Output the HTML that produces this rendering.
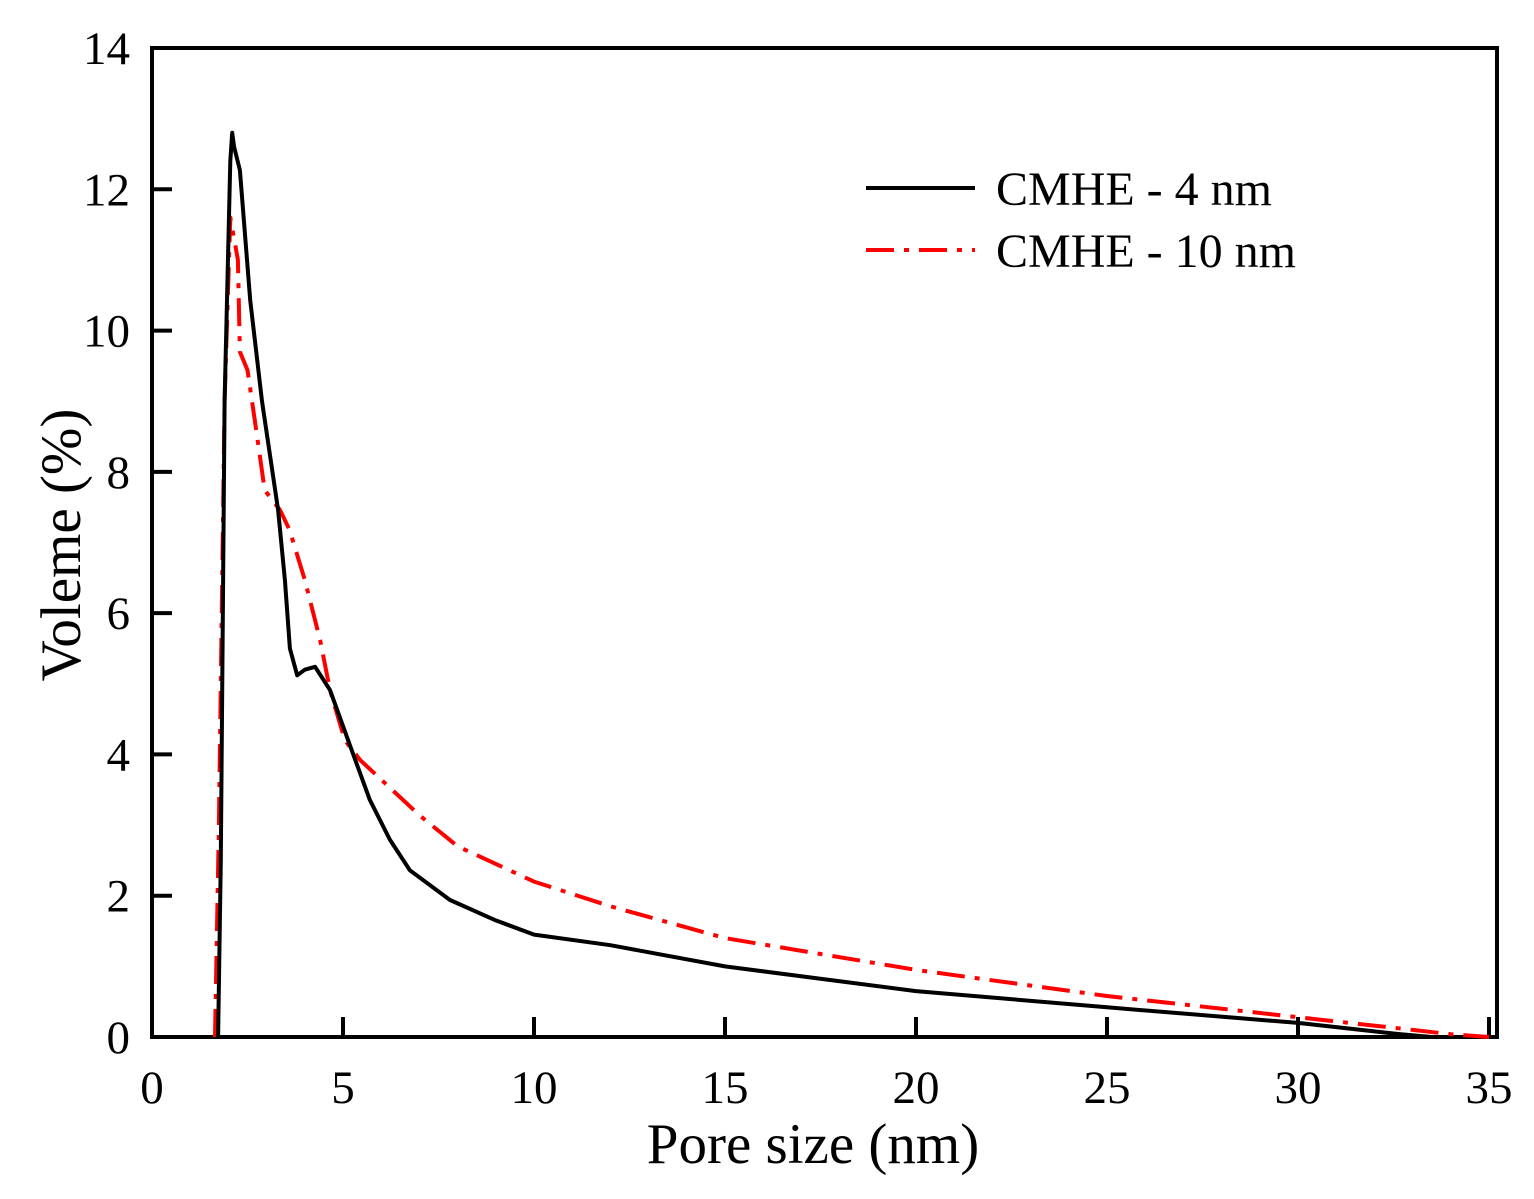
<!DOCTYPE html>
<html><head><meta charset="utf-8"><style>
html,body{margin:0;padding:0;background:#fff;}
svg text{font-family:"Liberation Serif",serif;fill:#000;}
</style></head><body>
<svg width="1534" height="1194" viewBox="0 0 1534 1194" xmlns="http://www.w3.org/2000/svg">
<g id="axes"></g>
<g id="series"></g>
<g id="legend">
  <line x1="866" y1="188" x2="975" y2="188" stroke="#000" stroke-width="4"/>
  <text x="996" y="205" font-size="48">CMHE - 4 nm</text>
  <line x1="866" y1="250" x2="975" y2="250" stroke="#f00" stroke-width="4" stroke-dasharray="28 10 5 10"/>
  <text x="996" y="267" font-size="48">CMHE - 10 nm</text>
</g>
<text x="813" y="1163" font-size="57" text-anchor="middle">Pore size (nm)</text>
<text transform="translate(80,545) rotate(-90)" font-size="57" text-anchor="middle">Voleme (%)</text>
</svg>
<script>
const xTicks=[0,5,10,15,20,25,30,35];
const yTicks=[0,2,4,6,8,10,12,14];
const seriesNames=["CMHE - 4 nm","CMHE - 10 nm"];
const x4=[1.73,1.8,1.9,2.05,2.1,2.15,2.3,2.57,2.88,3.3,3.48,3.61,3.8,4.0,4.27,4.66,5.18,5.7,6.23,6.75,7.8,9,10,12,15,20,25,30,32.5,33.5];
const y4=[0,2.5,9,12.4,12.8,12.6,12.27,10.43,9.0,7.46,6.47,5.5,5.12,5.2,5.24,4.91,4.13,3.36,2.79,2.36,1.94,1.65,1.45,1.3,1.0,0.65,0.42,0.2,0.05,0];
const x10=[1.65,1.75,1.9,2.05,2.25,2.3,2.5,2.7,2.95,3.35,3.6,4.0,4.4,4.66,5.05,5.45,7,8,10,12,15,20,25,30,33,34,35];
const y10=[0,3,9,11.6,11.0,9.7,9.44,8.7,7.74,7.46,7.18,6.47,5.62,4.91,4.2,3.92,3.14,2.7,2.2,1.85,1.4,0.95,0.58,0.28,0.1,0.04,0];
const L=152,R=1497,T=48,B=1037;
const sx=v=>L+(v/35)*(1489-L);
const sy=v=>B-(v/14)*(B-T);
const NS="http://www.w3.org/2000/svg";
function mk(tag,attrs,parent){const e=document.createElementNS(NS,tag);for(const k in attrs)e.setAttribute(k,attrs[k]);parent.appendChild(e);return e;}
const axes=document.getElementById('axes');
const frame=mk('rect',{x:L,y:T,width:R-L,height:B-T,fill:'none',stroke:'#000','stroke-width':4},axes);


xTicks.forEach(t=>{
  const tk=mk('line',{x1:sx(t),x2:sx(t),y1:B,y2:B-20,stroke:'#000','stroke-width':4},axes);
  
  
  const tx=mk('text',{x:sx(t),y:B+66,'font-size':47,'text-anchor':'middle'},axes);
  tx.textContent=t;
  
  
});
yTicks.forEach(t=>{
  const tk=mk('line',{x1:L,x2:L+20,y1:sy(t),y2:sy(t),stroke:'#000','stroke-width':4},axes);
  
  
  const tx=mk('text',{x:L-22,y:sy(t)+16,'font-size':47,'text-anchor':'end'},axes);
  tx.textContent=t;
  
  
});
const sg=document.getElementById('series');
function path(xs,ys){return xs.map((v,i)=>(i?'L':'M')+sx(v).toFixed(1)+','+sy(ys[i]).toFixed(1)).join(' ');}
const p10=mk('path',{d:path(x10,y10),fill:'none',stroke:'#f00','stroke-width':4,'stroke-dasharray':'28 10 5 10','stroke-linejoin':'round'},sg);


const p4=mk('path',{d:path(x4,y4),fill:'none',stroke:'#000','stroke-width':4,'stroke-linejoin':'round'},sg);


</script>
</body></html>
